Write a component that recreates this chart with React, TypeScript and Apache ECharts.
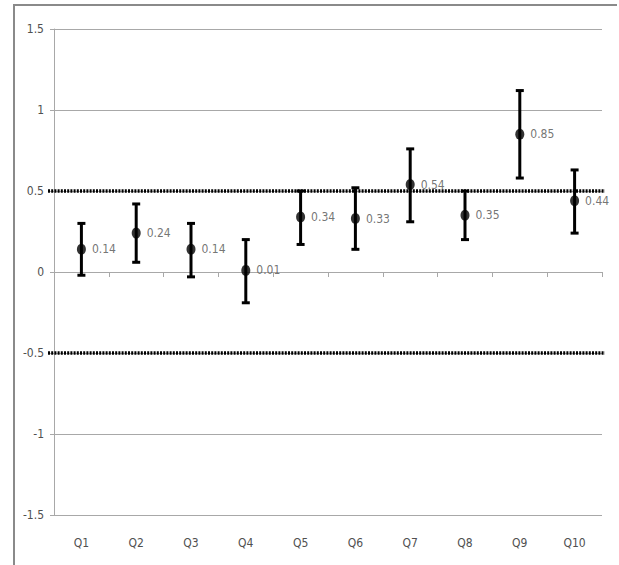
import React, { useEffect, useRef } from "react";
import * as echarts from "echarts";

const categories = ["Q1", "Q2", "Q3", "Q4", "Q5", "Q6", "Q7", "Q8", "Q9", "Q10"];
const means = [0.14, 0.24, 0.14, 0.01, 0.34, 0.33, 0.54, 0.35, 0.85, 0.44];
const upper = [0.3, 0.42, 0.3, 0.2, 0.5, 0.52, 0.76, 0.5, 1.12, 0.63];
const lower = [-0.02, 0.06, -0.03, -0.19, 0.17, 0.14, 0.31, 0.2, 0.58, 0.24];
const refLines = [0.5, -0.5];

const FONT = "'Liberation Sans Narrow', 'DejaVu Sans Condensed', 'Liberation Sans', sans-serif";

export default function App() {
  const ref = useRef<HTMLDivElement>(null);
  useEffect(() => {
    if (!ref.current) return;
    const chart = echarts.init(ref.current, undefined, { renderer: "svg" });
    const errData = categories.map((_, i) => [i, lower[i], upper[i]]);
    const option: any = {
      animation: false,
      backgroundColor: "#ffffff",
      graphic: [
        {
          type: "polyline",
          shape: {
            points: [
              [14, 580],
              [14, 5],
              [617, 5],
            ],
          },
          style: { fill: "none", stroke: "#8a8a8a", lineWidth: 2 },
          silent: true,
          z: 100,
        },
      ],
      grid: [
        { left: 54, top: 29, width: 548, height: 486, containLabel: false },
        { left: 48, top: 29, width: 557, height: 486, containLabel: false },
      ],
      xAxis: [
        {
          type: "category",
          data: categories,
          gridIndex: 0,
          position: "bottom",
          axisLine: { show: false, onZero: false },
          axisTick: { show: false },
          splitLine: { show: false },
          axisLabel: { color: "#505050", fontFamily: FONT, fontSize: 12, margin: 22 },
        },
        {
          type: "category",
          data: categories,
          gridIndex: 0,
          position: "top",
          axisLine: { show: true, onZero: true, lineStyle: { color: "#a8a8a8", width: 1 } },
          axisTick: { show: true, inside: true, length: 5, lineStyle: { color: "#a8a8a8" } },
          axisLabel: { show: false },
          splitLine: { show: false },
        },
        {
          type: "value",
          gridIndex: 1,
          min: 0,
          max: 1,
          show: false,
        },
      ],
      yAxis: [
        {
          type: "value",
          gridIndex: 0,
          min: -1.5,
          max: 1.5,
          interval: 0.5,
          axisLine: { show: true, lineStyle: { color: "#a8a8a8", width: 1 } },
          axisTick: { show: true, length: 4, lineStyle: { color: "#a8a8a8" } },
          splitLine: { show: true, lineStyle: { color: "#a8a8a8", width: 1 } },
          axisLabel: { color: "#505050", fontFamily: FONT, fontSize: 12, margin: 10 },
        },
        {
          type: "value",
          gridIndex: 1,
          min: -1.5,
          max: 1.5,
          show: false,
        },
      ],
      series: [
        ...refLines.map((v) => ({
          type: "line",
          xAxisIndex: 2,
          yAxisIndex: 1,
          data: [
            [0, v],
            [1, v],
          ],
          symbol: "none",
          silent: true,
          lineStyle: { color: "#000000", width: 3.5, type: [2, 1.2] },
          z: 2,
        })),
        {
          type: "custom",
          xAxisIndex: 0,
          yAxisIndex: 0,
          data: errData,
          z: 5,
          renderItem: (params: any, api: any) => {
            const x = api.value(0);
            const lo = api.coord([x, api.value(1)]);
            const hi = api.coord([x, api.value(2)]);
            const cap = 4;
            const style = { stroke: "#000000", lineWidth: 3 };
            return {
              type: "group",
              children: [
                { type: "line", shape: { x1: hi[0], y1: hi[1], x2: lo[0], y2: lo[1] }, style },
                { type: "line", shape: { x1: hi[0] - cap, y1: hi[1], x2: hi[0] + cap, y2: hi[1] }, style },
                { type: "line", shape: { x1: lo[0] - cap, y1: lo[1], x2: lo[0] + cap, y2: lo[1] }, style },
              ],
            };
          },
        },
        {
          type: "scatter",
          xAxisIndex: 0,
          yAxisIndex: 0,
          data: means,
          symbol: "circle",
          symbolSize: [9, 11],
          itemStyle: { color: "#000000" },
          z: 6,
          label: {
            show: true,
            position: "right",
            distance: 6,
            color: "#505050",
            fontFamily: FONT,
            fontSize: 12,
            formatter: (p: any) => p.value.toFixed(2),
          },
        },
      ],
    };
    chart.setOption(option);
    return () => chart.dispose();
  }, []);
  return (
    <div
      ref={ref}
      style={{ position: "fixed", left: 0, top: 0, width: 619, height: 565, background: "#fff" }}
    />
  );
}
